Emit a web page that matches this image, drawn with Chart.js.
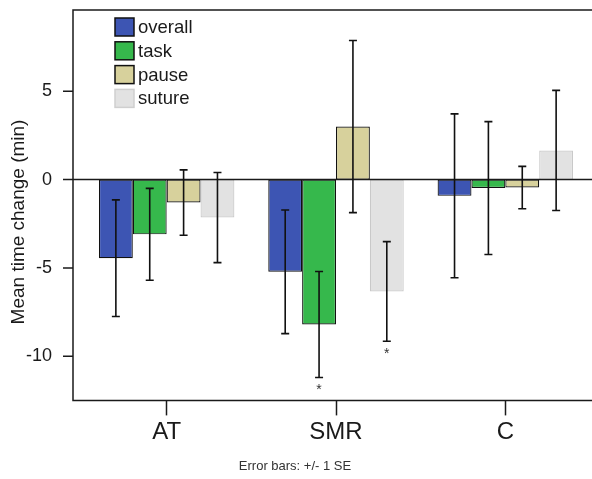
<!DOCTYPE html>
<html>
<head>
<meta charset="utf-8">
<script src="https://cdn.jsdelivr.net/npm/chart.js@4/dist/chart.umd.min.js"></script>
<style>
  html, body { margin: 0; padding: 0; background: #fff; }
  #wrap { width: 592px; height: 479px; position: relative; }
</style>
</head>
<body>
<div id="wrap"><canvas id="myChart"></canvas></div>
<script>
// groups and series
const categories = ["AT", "SMR", "C"];
const seriesNames = ["overall", "task", "pause", "suture"];

const overall = [-4.45, -5.22, -0.92];
const task = [-3.1, -8.2, -0.48];
const pause = [-1.3, 3.0, -0.45];
const suture = [-2.15, -6.33, 1.65];

// +/- 1 SE
const overallSE = [3.3, 3.5, 4.64];
const taskSE = [2.6, 3.0, 3.76];
const pauseSE = [1.85, 4.87, 1.2];
const sutureSE = [2.55, 2.82, 3.4];

// asterisks under the error bar
const overallSig = [false, false, false];
const taskSig = [false, true, false];
const pauseSig = [false, false, false];
const sutureSig = [false, true, false];

const yTicks = [-10, -5, 0, 5];
const yTitle = "Mean time change (min)";
const footNote = "Error bars: +/- 1 SE";

const values = [overall, task, pause, suture];
const errors = [overallSE, taskSE, pauseSE, sutureSE];
const stars = [overallSig, taskSig, pauseSig, sutureSig];
const fills = ["#3d55b3", "#36b84c", "#d7d19c", "#e2e2e2"];
const edges = ["#111", "#111", "#111", "#c9c9c9"];

const FONT = "'Liberation Sans', Arial, sans-serif";
const FRAME_X = 73;

const extras = {
    id: "extras",
    afterDatasetsDraw(chart) {
        const ctx = chart.ctx;
        const area = chart.chartArea;
        const y = chart.scales.y;
        const W = chart.width;

        ctx.save();
        ctx.strokeStyle = "#1a1a1a";
        ctx.lineWidth = 1.5;

        // frame: left, top, bottom (no right side)
        ctx.beginPath();
        ctx.moveTo(W, area.top);
        ctx.lineTo(FRAME_X, area.top);
        ctx.lineTo(FRAME_X, area.bottom);
        ctx.lineTo(W, area.bottom);
        // zero line
        const y0 = y.getPixelForValue(0);
        ctx.moveTo(FRAME_X, y0);
        ctx.lineTo(W, y0);
        // y tick marks
        yTicks.forEach(v => {
            const py = y.getPixelForValue(v);
            ctx.moveTo(FRAME_X - 10, py);
            ctx.lineTo(FRAME_X, py);
        });
        ctx.stroke();

        // error bars
        ctx.lineWidth = 1.6;
        ctx.strokeStyle = "#111";
        values.forEach((vals, i) => {
            const meta = chart.getDatasetMeta(i);
            vals.forEach((v, j) => {
                const x = meta.data[j].x;
                const hi = y.getPixelForValue(v + errors[i][j]);
                const lo = y.getPixelForValue(v - errors[i][j]);
                ctx.beginPath();
                ctx.moveTo(x, hi);
                ctx.lineTo(x, lo);
                ctx.moveTo(x - 4, hi);
                ctx.lineTo(x + 4, hi);
                ctx.moveTo(x - 4, lo);
                ctx.lineTo(x + 4, lo);
                ctx.stroke();
                if (stars[i][j]) {
                    ctx.fillStyle = "#333";
                    ctx.font = "14px " + FONT;
                    ctx.textAlign = "center";
                    ctx.textBaseline = "top";
                    ctx.fillText("*", x, lo + 6);
                }
            });
        });

        // legend
        ctx.font = "18.5px " + FONT;
        ctx.textAlign = "left";
        ctx.textBaseline = "middle";
        seriesNames.forEach((name, i) => {
            const top = 18 + i * 23.8;
            ctx.fillStyle = fills[i];
            ctx.fillRect(115, top, 19, 18);
            ctx.strokeStyle = i === 3 ? "#cfcfcf" : "#111";
            ctx.lineWidth = 1.5;
            ctx.strokeRect(115, top, 19, 18);
            ctx.fillStyle = "#1a1a1a";
            ctx.fillText(name, 138, top + 10);
        });

        // y title
        ctx.translate(19, 222);
        ctx.rotate(-Math.PI / 2);
        ctx.font = "19px " + FONT;
        ctx.textAlign = "center";
        ctx.textBaseline = "middle";
        ctx.fillStyle = "#1a1a1a";
        ctx.fillText(yTitle, 0, 0);
        ctx.restore();
    }
};

new Chart("myChart", {
    type: "bar",
    data: {
        labels: categories,
        datasets: seriesNames.map((name, i) => ({
            label: name,
            data: values[i],
            backgroundColor: fills[i],
            borderColor: edges[i],
            borderWidth: 1.2,
            borderSkipped: false,
            categoryPercentage: 0.8,
            barPercentage: 1.0
        }))
    },
    options: {
        responsive: true,
        maintainAspectRatio: false,
        animation: false,
        layout: { padding: { top: 10, right: 2, left: 0, bottom: 0 } },
        scales: {
            x: {
                grid: {
                    display: true,
                    drawOnChartArea: false,
                    drawTicks: true,
                    tickLength: 15,
                    tickWidth: 1.5,
                    color: "#1a1a1a",
                    offset: false
                },
                border: { display: false },
                ticks: {
                    color: "#1a1a1a",
                    font: { size: 24, family: FONT },
                    padding: 3,
                    maxRotation: 0
                },
                afterFit: (scale) => {
                    scale.height = 58;
                    scale.paddingLeft = 0;
                    scale.paddingRight = 0;
                }
            },
            y: {
                min: -12.5,
                max: 9.6,
                grid: { display: false },
                border: { display: false },
                afterBuildTicks: (scale) => {
                    scale.ticks = yTicks.map(v => ({ value: v }));
                },
                ticks: {
                    color: "#1a1a1a",
                    font: { size: 18, family: FONT },
                    padding: 22
                },
                afterFit: (scale) => {
                    scale.width = 82;
                    scale.paddingTop = 0;
                    scale.paddingBottom = 0;
                }
            }
        },
        plugins: {
            legend: { display: false },
            tooltip: { enabled: false },
            title: {
                display: true,
                text: footNote,
                position: "bottom",
                color: "#333",
                font: { size: 13, family: FONT, weight: "normal" },
                padding: { top: 0, bottom: 5 }
            }
        }
    },
    plugins: [extras]
});
</script>
</body>
</html>
